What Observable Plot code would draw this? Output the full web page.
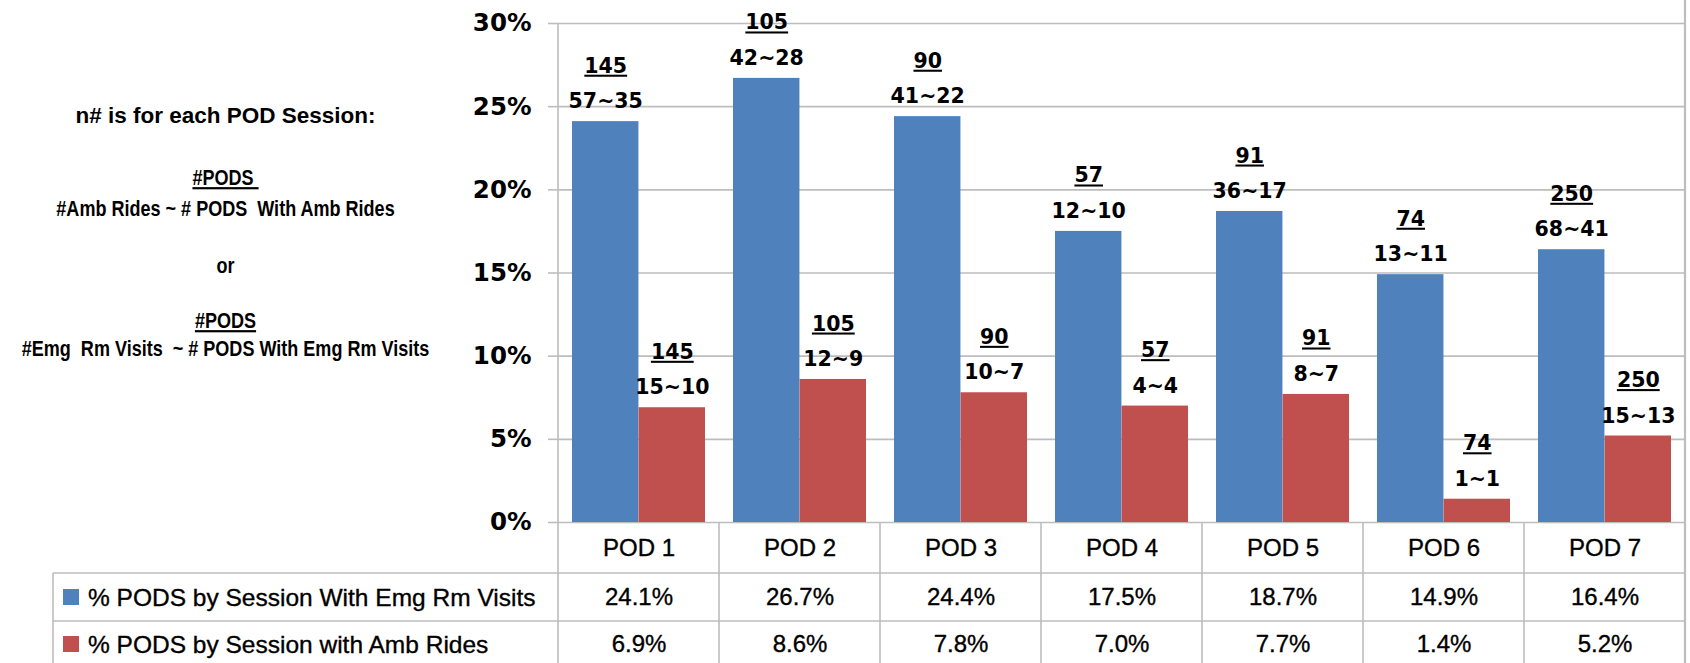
<!DOCTYPE html>
<html><head><meta charset="utf-8">
<script src="https://cdn.jsdelivr.net/npm/d3@7"></script>
<script src="https://cdn.jsdelivr.net/npm/@observablehq/plot@0.6"></script>
<style>
html,body{margin:0;padding:0;background:#fff;}
#chart svg{display:block;}
.ul text, text.ul{ text-decoration: underline; }
</style></head><body><div id="chart"></div>
<script>
// ---- data ----
const pods = ["POD 1","POD 2","POD 3","POD 4","POD 5","POD 6","POD 7"];
const emgPct = [24.1, 26.7, 24.4, 17.5, 18.7, 14.9, 16.4];   // % PODS by Session With Emg Rm Visits
const ambPct = [6.9, 8.6, 7.8, 7.0, 7.7, 1.4, 5.2];          // % PODS by Session with Amb Rides
const podCounts = [145, 105, 90, 57, 91, 74, 250];           // #PODS per session
const emgVisits = [57, 42, 41, 12, 36, 13, 68];              // #Emg Rm Visits
const emgPods = [35, 28, 22, 10, 17, 11, 41];                // #PODS With Emg Rm Visits
const ambRides = [15, 12, 10, 4, 8, 1, 15];                  // #Amb Rides
const ambPods = [10, 9, 7, 4, 7, 1, 13];                     // #PODS With Amb Rides
const yTicks = [0, 5, 10, 15, 20, 25, 30];
const seriesNames = ["% PODS by Session With Emg Rm Visits", "% PODS by Session with Amb Rides"];
const seriesColors = ["#4F81BD", "#C0504D"];
const noteLines = ["n# is for each POD Session:", "#PODS\u00a0", "#Amb Rides ~ # PODS  With Amb Rides", "or", "#PODS", "#Emg  Rm Visits  ~ # PODS With Emg Rm Visits"];

const rows = pods.map((p, i) => ({pod: p, emg: emgPct[i], amb: ambPct[i], n: podCounts[i],
  emgV: emgVisits[i], emgP: emgPods[i], ambR: ambRides[i], ambP: ambPods[i]}));

const W = 1690, H = 663, ML = 557, MR = 5, MT = 23, MB = 141;
const bw = (W - ML - MR) / pods.length;
const half = bw / 2, inset = 14, off = (half - inset) / 2;

const labelFont = {fontFamily: "DejaVu Sans", fontWeight: "bold", fontSize: 20.5, fill: "#000", lineAnchor: "middle"};
const tableFont = {fontFamily: "Liberation Sans, Arial, sans-serif", fontSize: 24, fill: "#000", stroke: "#000", strokeWidth: 0.35, lineAnchor: "middle", frameAnchor: "bottom"};

const plot = Plot.plot({
  width: W, height: H, marginLeft: ML, marginRight: MR, marginTop: MT, marginBottom: MB,
  style: {background: "#fff", overflow: "visible"},
  x: {domain: pods, padding: 0, axis: null},
  y: {domain: [0, 30], axis: null},
  marks: [
    Plot.gridY(yTicks, {stroke: "#bdbdbd", strokeOpacity: 1, strokeWidth: 1.6}),
    Plot.axisY(yTicks, {tickSize: 9, tickPadding: 17, tickFormat: d => d + "%", stroke: "#bdbdbd", strokeWidth: 1.6,
      fontSize: 24.5, fontWeight: "bold", fontFamily: "DejaVu Sans", fill: "#000"}),
    Plot.barY(rows, {x: "pod", y: "emg", fill: seriesColors[0], insetLeft: inset, insetRight: half}),
    Plot.barY(rows, {x: "pod", y: "amb", fill: seriesColors[1], insetLeft: half, insetRight: inset}),
    Plot.text(rows, {x: "pod", y: "emg", text: d => `${d.emgV}~${d.emgP}`, dx: -off, dy: -20, ...labelFont}),
    Plot.text(rows, {x: "pod", y: "emg", text: d => String(d.n), dx: -off, dy: -55.5, className: "ul", ...labelFont}),
    Plot.text(rows, {x: "pod", y: "amb", text: d => `${d.ambR}~${d.ambP}`, dx: off, dy: -20, ...labelFont}),
    Plot.text(rows, {x: "pod", y: "amb", text: d => String(d.n), dx: off, dy: -55.5, className: "ul", ...labelFont}),
    // data table under the chart
    Plot.text(rows, {x: "pod", text: "pod", dy: 26, ...tableFont}),
    Plot.text(rows, {x: "pod", text: d => d.emg.toFixed(1) + "%", dy: 75, ...tableFont}),
    Plot.text(rows, {x: "pod", text: d => d.amb.toFixed(1) + "%", dy: 122, ...tableFont})
  ]
});
document.getElementById("chart").appendChild(plot);

// ---- table frame, legend keys and side note ----
const svg = d3.select(plot);
const xs = plot.scale("x");
const yBottom = H - MB, xRight = W - MR;
const g = svg.append("g").attr("stroke", "#bdbdbd").attr("stroke-width", 1.6);
pods.forEach((p, i) => {
  const x0 = xs.apply(p);
  g.append("line").attr("x1", x0).attr("x2", x0).attr("y1", i === 0 ? MT : yBottom).attr("y2", H);
});
g.append("line").attr("x1", xRight).attr("x2", xRight).attr("y1", 0).attr("y2", H).attr("stroke-width", 2.2);
const tableLeft = 53, row1 = 573, row2 = 621;
[row1, row2].forEach(y => g.append("line").attr("x1", tableLeft).attr("x2", xRight).attr("y1", y).attr("y2", y));
g.append("line").attr("x1", tableLeft).attr("x2", tableLeft).attr("y1", row1).attr("y2", H);

const rowCenters = [597, 644];
seriesNames.forEach((name, i) => {
  svg.append("rect").attr("x", 63).attr("y", rowCenters[i] - 8).attr("width", 16).attr("height", 16).attr("fill", seriesColors[i]);
  svg.append("text").attr("x", 88).attr("y", rowCenters[i]).attr("dy", "0.36em").attr("text-anchor", "start")
    .attr("font-family", "Liberation Sans, Arial, sans-serif").attr("font-size", 24.5).attr("fill", "#000")
    .attr("stroke", "#000").attr("stroke-width", 0.35).text(name);
});

const noteY = [115, 177, 208, 265, 320, 348];
const noteX = 225.5;
noteLines.forEach((t, i) => {
  const el = svg.append("text").attr("text-anchor", "middle").attr("dy", "0.36em")
    .attr("fill", "#000").attr("font-weight", "bold").style("white-space", "pre")
    .attr("font-family", "Liberation Sans, Arial, sans-serif").text(t);
  if (i === 0) el.attr("x", noteX).attr("y", noteY[i]).attr("font-size", 22.5);
  else el.attr("transform", `translate(${noteX},${noteY[i]}) scale(0.82,1)`).attr("font-size", 22);
  if (i === 1 || i === 4) el.attr("class", "ul");
});
</script></body></html>
